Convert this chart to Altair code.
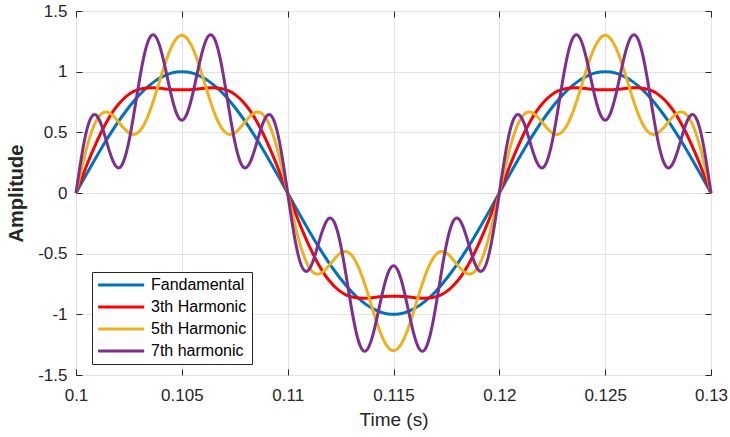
import altair as alt
import pandas as pd

# Sample times (s)
time_s = [
    0.10000, 0.10025, 0.10050, 0.10075, 0.10100, 0.10125, 0.10150, 0.10175, 0.10200, 0.10225, 0.10250,
    0.10275, 0.10300, 0.10325, 0.10350, 0.10375, 0.10400, 0.10425, 0.10450, 0.10475, 0.10500,
    0.10525, 0.10550, 0.10575, 0.10600, 0.10625, 0.10650, 0.10675, 0.10700, 0.10725, 0.10750,
    0.10775, 0.10800, 0.10825, 0.10850, 0.10875, 0.10900, 0.10925, 0.10950, 0.10975, 0.11000,
    0.11025, 0.11050, 0.11075, 0.11100, 0.11125, 0.11150, 0.11175, 0.11200, 0.11225, 0.11250,
    0.11275, 0.11300, 0.11325, 0.11350, 0.11375, 0.11400, 0.11425, 0.11450, 0.11475, 0.11500,
    0.11525, 0.11550, 0.11575, 0.11600, 0.11625, 0.11650, 0.11675, 0.11700, 0.11725, 0.11750,
    0.11775, 0.11800, 0.11825, 0.11850, 0.11875, 0.11900, 0.11925, 0.11950, 0.11975, 0.12000,
    0.12025, 0.12050, 0.12075, 0.12100, 0.12125, 0.12150, 0.12175, 0.12200, 0.12225, 0.12250,
    0.12275, 0.12300, 0.12325, 0.12350, 0.12375, 0.12400, 0.12425, 0.12450, 0.12475, 0.12500,
    0.12525, 0.12550, 0.12575, 0.12600, 0.12625, 0.12650, 0.12675, 0.12700, 0.12725, 0.12750,
    0.12775, 0.12800, 0.12825, 0.12850, 0.12875, 0.12900, 0.12925, 0.12950, 0.12975, 0.13000,
]

fundamental = [
    0.000, 0.078, 0.156, 0.233, 0.309, 0.383, 0.454, 0.522, 0.588, 0.649, 0.707, 0.760, 0.809, 0.853, 0.891, 0.924, 0.951, 0.972, 0.988, 0.997, 1.000,
    0.997, 0.988, 0.972, 0.951, 0.924, 0.891, 0.853, 0.809, 0.760, 0.707, 0.649, 0.588, 0.522, 0.454, 0.383, 0.309, 0.233, 0.156, 0.078, 0.000,
    -0.078, -0.156, -0.233, -0.309, -0.383, -0.454, -0.522, -0.588, -0.649, -0.707, -0.760, -0.809, -0.853, -0.891, -0.924, -0.951, -0.972, -0.988, -0.997, -1.000,
    -0.997, -0.988, -0.972, -0.951, -0.924, -0.891, -0.853, -0.809, -0.760, -0.707, -0.649, -0.588, -0.522, -0.454, -0.383, -0.309, -0.233, -0.156, -0.078, 0.000,
    0.078, 0.156, 0.233, 0.309, 0.383, 0.454, 0.522, 0.588, 0.649, 0.707, 0.760, 0.809, 0.853, 0.891, 0.924, 0.951, 0.972, 0.988, 0.997, 1.000,
    0.997, 0.988, 0.972, 0.951, 0.924, 0.891, 0.853, 0.809, 0.760, 0.707, 0.649, 0.588, 0.522, 0.454, 0.383, 0.309, 0.233, 0.156, 0.078, 0.000,
]

third = [
    0.000, 0.113, 0.225, 0.331, 0.430, 0.521, 0.602, 0.672, 0.730, 0.777, 0.813, 0.839, 0.855, 0.864, 0.868, 0.866, 0.863, 0.858, 0.854, 0.851, 0.850,
    0.851, 0.854, 0.858, 0.863, 0.866, 0.868, 0.864, 0.855, 0.839, 0.813, 0.777, 0.730, 0.672, 0.602, 0.521, 0.430, 0.331, 0.225, 0.113, 0.000,
    -0.113, -0.225, -0.331, -0.430, -0.521, -0.602, -0.672, -0.730, -0.777, -0.813, -0.839, -0.855, -0.864, -0.868, -0.866, -0.863, -0.858, -0.854, -0.851, -0.850,
    -0.851, -0.854, -0.858, -0.863, -0.866, -0.868, -0.864, -0.855, -0.839, -0.813, -0.777, -0.730, -0.672, -0.602, -0.521, -0.430, -0.331, -0.225, -0.113, 0.000,
    0.113, 0.225, 0.331, 0.430, 0.521, 0.602, 0.672, 0.730, 0.777, 0.813, 0.839, 0.855, 0.864, 0.868, 0.866, 0.863, 0.858, 0.854, 0.851, 0.850,
    0.851, 0.854, 0.858, 0.863, 0.866, 0.868, 0.864, 0.855, 0.839, 0.813, 0.777, 0.730, 0.672, 0.602, 0.521, 0.430, 0.331, 0.225, 0.113, 0.000,
]

fifth = [
    0.000, 0.193, 0.369, 0.511, 0.609, 0.660, 0.666, 0.637, 0.588, 0.535, 0.495, 0.483, 0.509, 0.575, 0.679, 0.809, 0.951, 1.087, 1.200, 1.274, 1.300,
    1.274, 1.200, 1.087, 0.951, 0.809, 0.679, 0.575, 0.509, 0.483, 0.495, 0.535, 0.588, 0.637, 0.666, 0.660, 0.609, 0.511, 0.369, 0.193, 0.000,
    -0.193, -0.369, -0.511, -0.609, -0.660, -0.666, -0.637, -0.588, -0.535, -0.495, -0.483, -0.509, -0.575, -0.679, -0.809, -0.951, -1.087, -1.200, -1.274, -1.300,
    -1.274, -1.200, -1.087, -0.951, -0.809, -0.679, -0.575, -0.509, -0.483, -0.495, -0.535, -0.588, -0.637, -0.666, -0.660, -0.609, -0.511, -0.369, -0.193, 0.000,
    0.193, 0.369, 0.511, 0.609, 0.660, 0.666, 0.637, 0.588, 0.535, 0.495, 0.483, 0.509, 0.575, 0.679, 0.809, 0.951, 1.087, 1.200, 1.274, 1.300,
    1.274, 1.200, 1.087, 0.951, 0.809, 0.679, 0.575, 0.509, 0.483, 0.495, 0.535, 0.588, 0.637, 0.666, 0.660, 0.609, 0.511, 0.369, 0.193, 0.000,
]

seventh = [
    0.000, 0.287, 0.513, 0.632, 0.633, 0.536, 0.391, 0.263, 0.207, 0.261, 0.424, 0.667, 0.933, 1.157, 1.286, 1.293, 1.186, 1.004, 0.806, 0.656, 0.600,
    0.656, 0.806, 1.004, 1.186, 1.293, 1.286, 1.157, 0.933, 0.667, 0.424, 0.261, 0.207, 0.263, 0.391, 0.536, 0.633, 0.632, 0.513, 0.287, 0.000,
    -0.287, -0.513, -0.632, -0.633, -0.536, -0.391, -0.263, -0.207, -0.261, -0.424, -0.667, -0.933, -1.157, -1.286, -1.293, -1.186, -1.004, -0.806, -0.656, -0.600,
    -0.656, -0.806, -1.004, -1.186, -1.293, -1.286, -1.157, -0.933, -0.667, -0.424, -0.261, -0.207, -0.263, -0.391, -0.536, -0.633, -0.632, -0.513, -0.287, 0.000,
    0.287, 0.513, 0.632, 0.633, 0.536, 0.391, 0.263, 0.207, 0.261, 0.424, 0.667, 0.933, 1.157, 1.286, 1.293, 1.186, 1.004, 0.806, 0.656, 0.600,
    0.656, 0.806, 1.004, 1.186, 1.293, 1.286, 1.157, 0.933, 0.667, 0.424, 0.261, 0.207, 0.263, 0.391, 0.536, 0.633, 0.632, 0.513, 0.287, 0.000,
]

series_names = ["Fandamental", "3th Harmonic", "5th Harmonic", "7th harmonic"]
series_colors = ["#0072BD", "#FF0000", "#EDB120", "#7E2F8E"]
x_ticks = [0.1, 0.105, 0.11, 0.115, 0.12, 0.125, 0.13]
y_ticks = [-1.5, -1, -0.5, 0, 0.5, 1, 1.5]

frames = []
for name, vals in zip(series_names, [fundamental, third, fifth, seventh]):
    frames.append(pd.DataFrame({"t": time_s, "amp": vals, "series": name}))
df = pd.concat(frames, ignore_index=True)

W, H = 635, 364
FONT = "Liberation Sans"
TXT = "#262626"

xs = alt.Scale(domain=[0.1, 0.13], nice=False, zero=False)
ys = alt.Scale(domain=[-1.5, 1.5], nice=False, zero=False)

lines = alt.Chart(df).mark_line(strokeWidth=3, interpolate="natural").encode(
    x=alt.X("t:Q", scale=xs, axis=alt.Axis(
        values=x_ticks, labelExpr="'' + datum.value", title="Time (s)",
        grid=True, gridColor="#e3e3e3", gridWidth=1, ticks=False, tickSize=0, domain=False,
        labelFlush=False, labelOverlap=False, labelPadding=12, labelFontSize=17, labelColor=TXT,
        labelFont=FONT, titleFont=FONT, titleFontSize=19, titleFontWeight="normal",
        titleColor=TXT, titlePadding=7)),
    y=alt.Y("amp:Q", scale=ys, axis=alt.Axis(
        values=y_ticks, labelExpr="'' + datum.value", title="Amplitude",
        grid=True, gridColor="#e3e3e3", gridWidth=1, ticks=False, tickSize=0, domain=False,
        labelOverlap=False, labelPadding=9, labelFontSize=17, labelColor=TXT,
        labelFont=FONT, titleFont=FONT, titleFontSize=20, titleFontWeight="bold",
        titleColor=TXT, titlePadding=11)),
    color=alt.Color("series:N", scale=alt.Scale(domain=series_names, range=series_colors),
                    legend=alt.Legend(
                        title=None, orient="none", legendX=16, legendY=261,
                        symbolType="M-1.5,0H8.5", symbolSize=85, symbolStrokeWidth=3,
                        labelFontSize=16, labelFont=FONT, labelColor="#000000",
                        labelOffset=38, rowPadding=6, padding=5, labelLimit=0,
                        strokeColor="#262626", fillColor="white", cornerRadius=0)),
)

tick_style = dict(labels=False, grid=False, domain=False, ticks=True, tickSize=6,
                  tickColor=TXT, tickWidth=1)

ticks_a = alt.Chart(df).mark_line(opacity=0).encode(
    x=alt.X("t:Q", scale=xs, title=None,
            axis=alt.Axis(orient="top", offset=-H, values=x_ticks, **tick_style)),
    y=alt.Y("amp:Q", scale=ys, title=None,
            axis=alt.Axis(orient="right", offset=-W, values=y_ticks, **tick_style)),
)

ticks_b = alt.Chart(df).mark_line(opacity=0).encode(
    x=alt.X("t:Q", scale=xs, title=None,
            axis=alt.Axis(orient="bottom", offset=-H, values=x_ticks, **tick_style)),
    y=alt.Y("amp:Q", scale=ys, title=None,
            axis=alt.Axis(orient="left", offset=-W, values=y_ticks, **tick_style)),
)

chart = alt.layer(lines, ticks_a, ticks_b).resolve_axis(
    x="independent", y="independent"
).properties(
    width=W, height=H,
    padding={"left": 76, "top": 11, "right": 19, "bottom": 62},
    autosize=alt.AutoSizeParams(type="none"),
    background="white",
).configure_view(stroke="#262626", strokeWidth=1)

chart.save("out.html", embed_options={"renderer": "svg", "actions": False})
